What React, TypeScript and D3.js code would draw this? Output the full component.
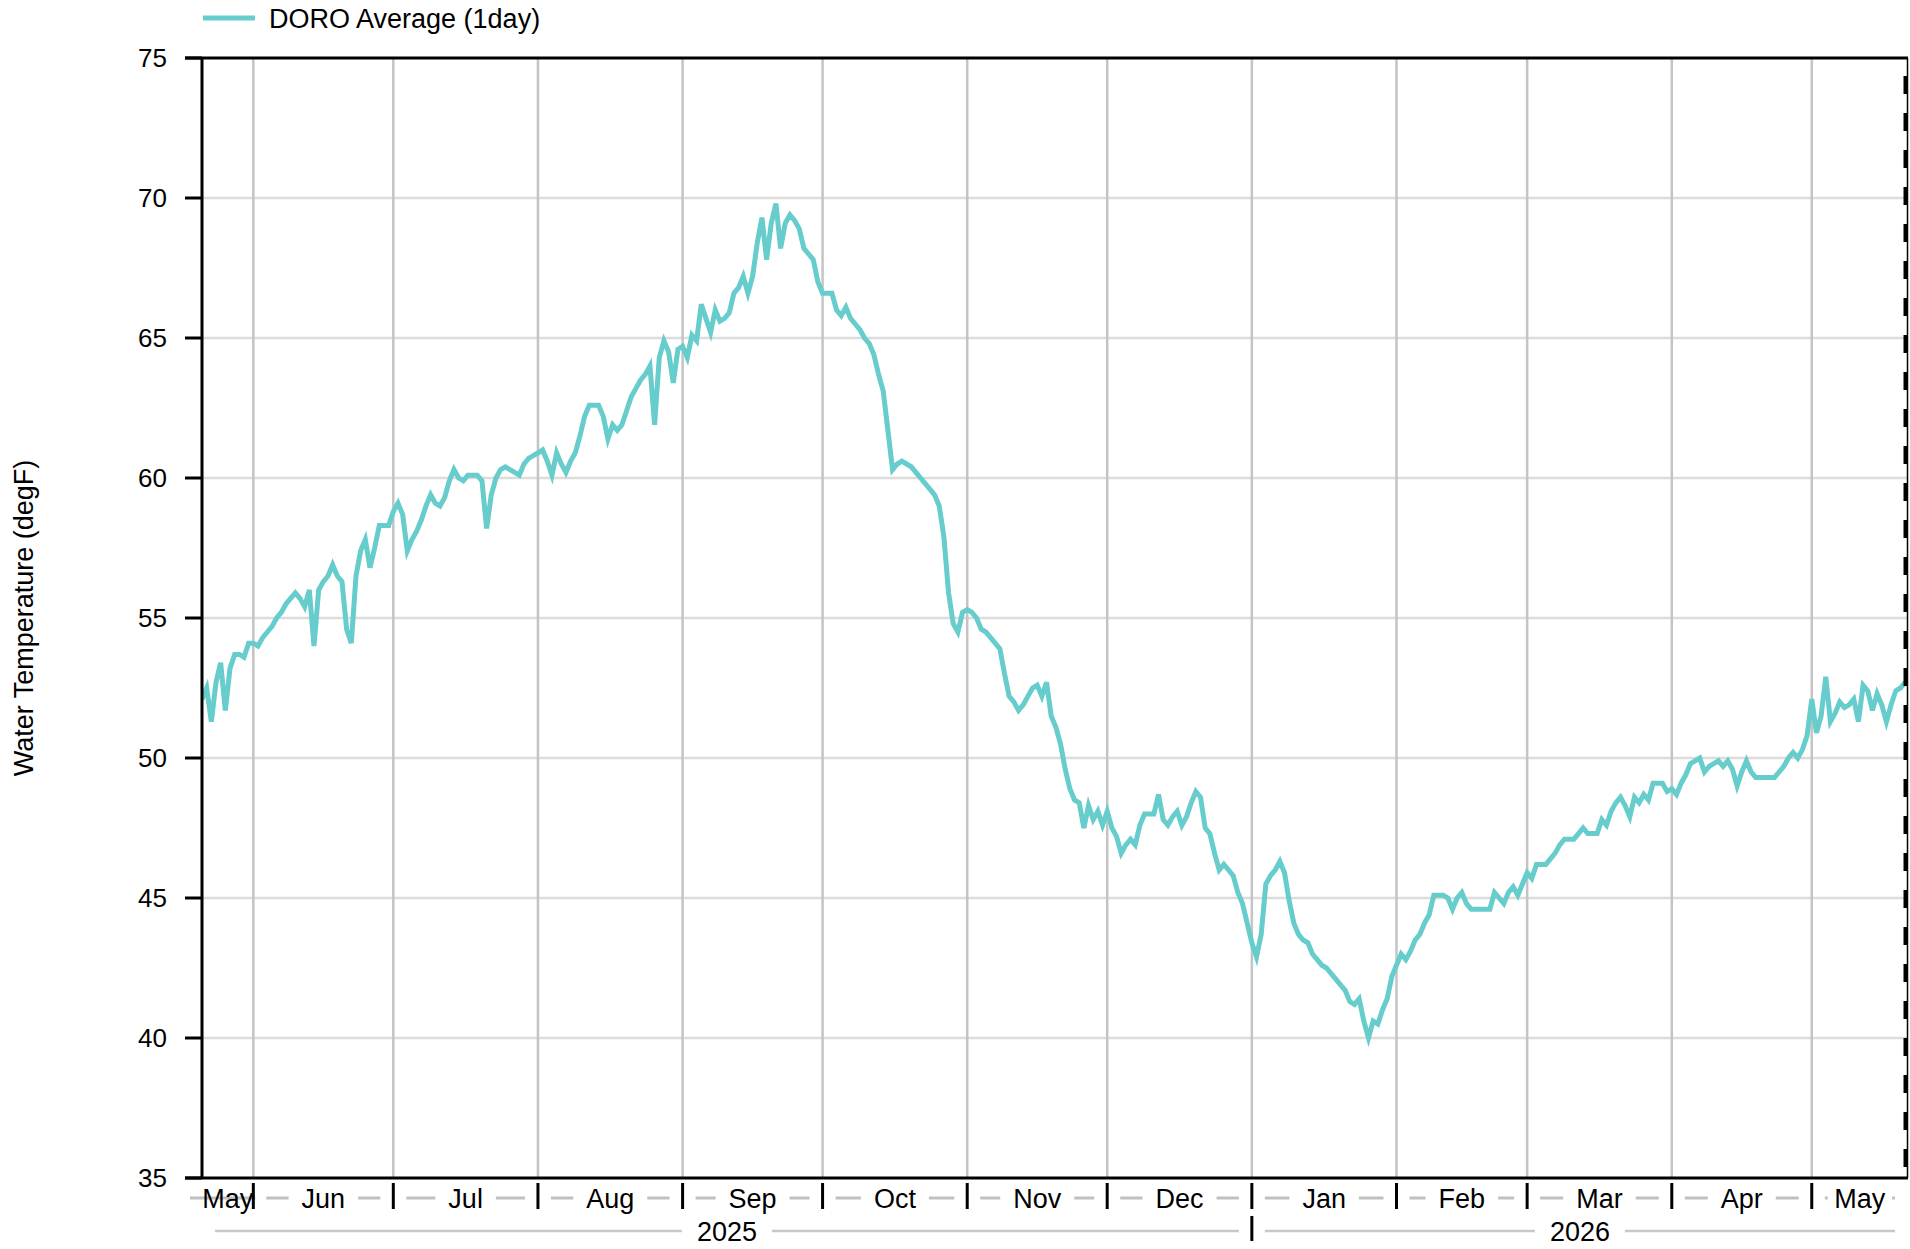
import * as d3 from "d3";

// daily average water temperature (degF), one value per day
const may2025 = [52.1, 52.5, 51.3, 52.7, 53.4, 51.7, 53.2, 53.7, 53.7, 53.6, 54.1];
const jun2025 = [54.1, 54.0, 54.3, 54.5, 54.7, 55.0, 55.2, 55.5, 55.7, 55.9, 55.7, 55.4, 56.0, 54.0, 56.0, 56.3, 56.5, 56.9, 56.5, 56.3, 54.6, 54.1, 56.5, 57.4, 57.8, 56.8, 57.5, 58.3, 58.3, 58.3];
const jul2025 = [58.8, 59.1, 58.7, 57.4, 57.8, 58.1, 58.5, 59.0, 59.4, 59.1, 59.0, 59.3, 59.9, 60.3, 60.0, 59.9, 60.1, 60.1, 60.1, 59.9, 58.2, 59.4, 60.0, 60.3, 60.4, 60.3, 60.2, 60.1, 60.5, 60.7, 60.8];
const aug2025 = [60.9, 61.0, 60.6, 60.1, 60.9, 60.5, 60.2, 60.6, 60.9, 61.5, 62.2, 62.6, 62.6, 62.6, 62.2, 61.4, 61.9, 61.7, 61.9, 62.4, 62.9, 63.2, 63.5, 63.7, 64.0, 61.9, 64.3, 64.9, 64.5, 63.4, 64.6];
const sep2025 = [64.7, 64.3, 65.1, 64.9, 66.2, 65.7, 65.2, 66.0, 65.6, 65.7, 65.9, 66.6, 66.8, 67.2, 66.6, 67.2, 68.4, 69.3, 67.8, 69.1, 69.8, 68.2, 69.1, 69.4, 69.2, 68.9, 68.2, 68.0, 67.8, 67.0];
const oct2025 = [66.6, 66.6, 66.6, 66.0, 65.8, 66.1, 65.7, 65.5, 65.3, 65.0, 64.8, 64.4, 63.7, 63.1, 61.7, 60.3, 60.5, 60.6, 60.5, 60.4, 60.2, 60.0, 59.8, 59.6, 59.4, 59.0, 57.9, 55.9, 54.8, 54.5, 55.2];
const nov2025 = [55.3, 55.2, 55.0, 54.6, 54.5, 54.3, 54.1, 53.9, 53.0, 52.2, 52.0, 51.7, 51.9, 52.2, 52.5, 52.6, 52.2, 52.7, 51.5, 51.1, 50.5, 49.6, 48.9, 48.5, 48.4, 47.5, 48.3, 47.8, 48.1, 47.6];
const dec2025 = [48.1, 47.5, 47.2, 46.6, 46.9, 47.1, 46.9, 47.6, 48.0, 48.0, 48.0, 48.7, 47.8, 47.6, 47.9, 48.1, 47.6, 47.9, 48.4, 48.8, 48.6, 47.5, 47.3, 46.6, 46.0, 46.2, 46.0, 45.8, 45.2, 44.8, 44.1];
const jan2026 = [43.4, 42.9, 43.7, 45.5, 45.8, 46.0, 46.3, 45.9, 44.9, 44.1, 43.7, 43.5, 43.4, 43.0, 42.8, 42.6, 42.5, 42.3, 42.1, 41.9, 41.7, 41.3, 41.2, 41.4, 40.6, 40.0, 40.6, 40.5, 41.0, 41.4, 42.2];
const feb2026 = [42.6, 43.0, 42.8, 43.1, 43.5, 43.7, 44.1, 44.4, 45.1, 45.1, 45.1, 45.0, 44.6, 45.0, 45.2, 44.8, 44.6, 44.6, 44.6, 44.6, 44.6, 45.2, 45.0, 44.8, 45.2, 45.4, 45.1, 45.5];
const mar2026 = [45.9, 45.7, 46.2, 46.2, 46.2, 46.4, 46.6, 46.9, 47.1, 47.1, 47.1, 47.3, 47.5, 47.3, 47.3, 47.3, 47.8, 47.6, 48.1, 48.4, 48.6, 48.3, 47.9, 48.6, 48.4, 48.7, 48.5, 49.1, 49.1, 49.1, 48.8];
const apr2026 = [48.9, 48.7, 49.1, 49.4, 49.8, 49.9, 50.0, 49.5, 49.7, 49.8, 49.9, 49.7, 49.9, 49.6, 49.0, 49.5, 49.9, 49.5, 49.3, 49.3, 49.3, 49.3, 49.3, 49.5, 49.7, 50.0, 50.2, 50.0, 50.3, 50.8];
const may2026 = [52.1, 50.9, 51.5, 52.9, 51.3, 51.6, 52.0, 51.8, 51.9, 52.1, 51.3, 52.6, 52.4, 51.7, 52.3, 51.9, 51.3, 51.9, 52.4, 52.5, 52.7];

// [year, month (0-based), first day, values]
const monthBlocks: [number, number, number, number[]][] = [
  [2025, 4, 21, may2025],
  [2025, 5, 1, jun2025],
  [2025, 6, 1, jul2025],
  [2025, 7, 1, aug2025],
  [2025, 8, 1, sep2025],
  [2025, 9, 1, oct2025],
  [2025, 10, 1, nov2025],
  [2025, 11, 1, dec2025],
  [2026, 0, 1, jan2026],
  [2026, 1, 1, feb2026],
  [2026, 2, 1, mar2026],
  [2026, 3, 1, apr2026],
  [2026, 4, 1, may2026],
];

const yTicks = [35, 40, 45, 50, 55, 60, 65, 70, 75];
const monthNames = ["Jan", "Feb", "Mar", "Apr", "May", "Jun", "Jul", "Aug", "Sep", "Oct", "Nov", "Dec"];
const seriesName = "DORO Average (1day)";
const yTitle = "Water Temperature (degF)";

const W = 1910;
const H = 1249;
const margin = { top: 58, right: 2, bottom: 71, left: 202 };
const FONT = "'Liberation Sans', Arial, Helvetica, sans-serif";
const FS = 27;
const TICK_FS = 26;
const LINE_COLOR = "#66cccc";

function textWidth(s: string, size: number) {
  const ctx = document.createElement("canvas").getContext("2d");
  if (!ctx) return s.length * size * 0.55;
  ctx.font = `${size}px ${FONT}`;
  return ctx.measureText(s).width;
}

export default function App() {
  const data: { date: Date; value: number }[] = [];
  monthBlocks.forEach(([yr, mo, d0, vals]) => {
    vals.forEach((v, i) => data.push({ date: new Date(yr, mo, d0 + i), value: v }));
  });

  const x0 = margin.left;
  const x1 = W - margin.right;
  const yTop = margin.top;
  const yBot = H - margin.bottom;

  const x = d3
    .scaleTime()
    .domain([new Date(2025, 4, 21, 0), new Date(2026, 4, 21, 15)])
    .range([x0, x1]);
  const y = d3.scaleLinear().domain([35, 75]).range([yBot, yTop]);

  const line = d3
    .line<{ date: Date; value: number }>()
    .x((d) => x(d.date))
    .y((d) => y(d.value));

  const monthStarts = d3.timeMonth.range(new Date(2025, 5, 1), new Date(2026, 4, 2));
  const monthSpans = d3.timeMonth.range(new Date(2025, 4, 1), new Date(2026, 4, 2)).map((m) => {
    const a = Math.max(x(m), x0);
    const b = Math.min(x(d3.timeMonth.offset(m, 1)), x1);
    return { label: monthNames[m.getMonth()], a, b, first: x(m) < x0 };
  });
  const yearSpans = [2025, 2026].map((yr) => ({
    label: String(yr),
    a: Math.max(x(new Date(yr, 0, 1)), x0),
    b: Math.min(x(new Date(yr + 1, 0, 1)), x1),
  }));

  const monthRowY = 1198;
  const yearRowY = 1231;
  const gap = 13;

  const sideSegments = (a: number, b: number, label: string, first: boolean) => {
    const c = (a + b) / 2;
    const w = textWidth(label, FS);
    const l = c - w / 2 - 13;
    const r = c + w / 2 + 13;
    if (first && l < a + gap) return [[a - 12, b + 2]];
    return [
      [a + gap, Math.max(a + gap + 3, l)],
      [Math.min(b - gap - 3, r), b - gap],
    ];
  };

  return (
    <svg
      width={W}
      height={H}
      style={{ position: "absolute", left: 0, top: 0, background: "#fff" }}
      fontFamily={FONT}
    >
      <defs>
        <clipPath id="plot-clip">
          <rect x={x0} y={yTop - 5} width={x1 - x0} height={yBot - yTop + 10} />
        </clipPath>
      </defs>

      {/* legend */}
      <line x1={203} x2={255} y1={18} y2={18} stroke={LINE_COLOR} strokeWidth={5} />
      <text x={269} y={19} fontSize={FS} dominantBaseline="central" fill="#000">
        {seriesName}
      </text>

      {/* horizontal grid */}
      {yTicks
        .filter((t) => t !== 35 && t !== 75)
        .map((t) => (
          <line key={`hg${t}`} x1={x0} x2={x1} y1={y(t)} y2={y(t)} stroke="#dcdcdc" strokeWidth={2.5} />
        ))}
      {/* vertical grid at month starts */}
      {monthStarts.map((m) => (
        <line key={`vg${+m}`} x1={x(m)} x2={x(m)} y1={yTop} y2={yBot} stroke="#c4c4c4" strokeWidth={2.5} />
      ))}

      {/* series */}
      <path
        d={line(data) || ""}
        fill="none"
        stroke={LINE_COLOR}
        strokeWidth={5}
        strokeLinejoin="miter"
        clipPath="url(#plot-clip)"
      />

      {/* frame */}
      <line x1={185} x2={x1} y1={yTop} y2={yTop} stroke="#000" strokeWidth={3} />
      <line x1={185} x2={x1} y1={yBot} y2={yBot} stroke="#000" strokeWidth={3} />
      <line x1={x0} x2={x0} y1={yTop} y2={yBot} stroke="#000" strokeWidth={3} />
      <line x1={x1 - 0.5} x2={x1 - 0.5} y1={yTop} y2={yBot} stroke="#000" strokeWidth={1.5} />
      <line
        x1={x1 - 2.5}
        x2={x1 - 2.5}
        y1={yTop}
        y2={yBot}
        stroke="#000"
        strokeWidth={4}
        strokeDasharray="18 19"
        strokeDashoffset={19}
      />

      {/* y axis */}
      {yTicks.map((t) => (
        <g key={`yt${t}`}>
          <line x1={185} x2={x0} y1={y(t)} y2={y(t)} stroke="#000" strokeWidth={3} />
          <text x={167} y={y(t)} fontSize={TICK_FS} textAnchor="end" dominantBaseline="central" fill="#000">
            {t}
          </text>
        </g>
      ))}
      <text
        transform={`translate(24,${(yTop + yBot) / 2}) rotate(-90)`}
        fontSize={FS}
        textAnchor="middle"
        dominantBaseline="central"
        fill="#000"
      >
        {yTitle}
      </text>

      {/* month row */}
      {monthSpans.map((s) => (
        <g key={`ms${s.label}${s.a}`}>
          {sideSegments(s.a, s.b, s.label, s.first).map(([p, q], i) => (
            <line key={i} x1={p} x2={q} y1={monthRowY} y2={monthRowY} stroke="#c0c0c0" strokeWidth={3} />
          ))}
          <text
            x={(s.a + s.b) / 2}
            y={monthRowY + 1}
            fontSize={FS}
            textAnchor="middle"
            dominantBaseline="central"
            fill="#000"
          >
            {s.label}
          </text>
        </g>
      ))}
      {monthStarts.map((m) => (
        <line key={`mt${+m}`} x1={x(m)} x2={x(m)} y1={1183} y2={1209} stroke="#000" strokeWidth={3} />
      ))}

      {/* year row */}
      {yearSpans.map((s) => {
        const c = (s.a + s.b) / 2;
        const w = textWidth(s.label, FS);
        return (
          <g key={`ys${s.label}`}>
            <line x1={s.a + gap} x2={c - w / 2 - 15} y1={yearRowY} y2={yearRowY} stroke="#c8c8c8" strokeWidth={2.5} />
            <line x1={c + w / 2 + 15} x2={s.b - gap} y1={yearRowY} y2={yearRowY} stroke="#c8c8c8" strokeWidth={2.5} />
            <text x={c} y={yearRowY + 1} fontSize={FS} textAnchor="middle" dominantBaseline="central" fill="#000">
              {s.label}
            </text>
          </g>
        );
      })}
      <line
        x1={x(new Date(2026, 0, 1))}
        x2={x(new Date(2026, 0, 1))}
        y1={1216}
        y2={1241}
        stroke="#000"
        strokeWidth={3}
      />
    </svg>
  );
}
